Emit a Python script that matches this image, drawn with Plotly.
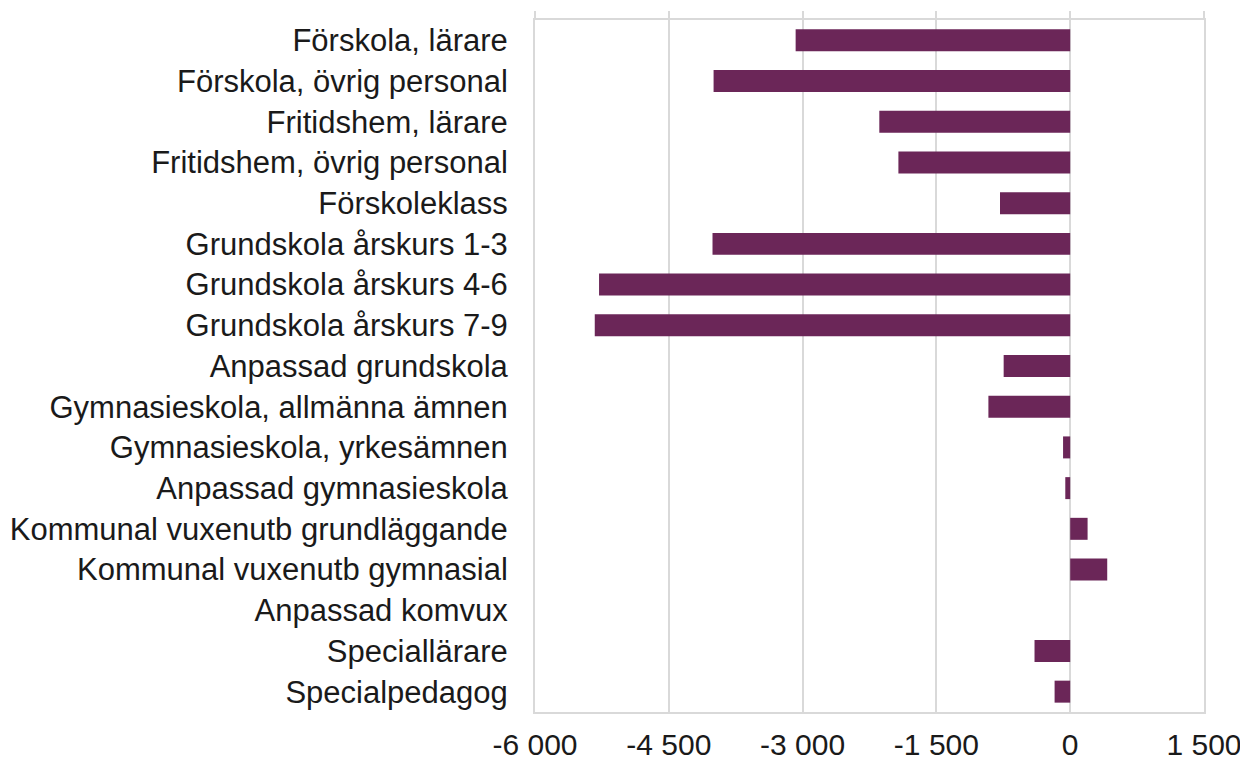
import plotly.graph_objects as go

categories = [
    "Förskola, lärare",
    "Förskola, övrig personal",
    "Fritidshem, lärare",
    "Fritidshem, övrig personal",
    "Förskoleklass",
    "Grundskola årskurs 1-3",
    "Grundskola årskurs 4-6",
    "Grundskola årskurs 7-9",
    "Anpassad grundskola",
    "Gymnasieskola, allmänna ämnen",
    "Gymnasieskola, yrkesämnen",
    "Anpassad gymnasieskola",
    "Kommunal vuxenutb grundläggande",
    "Kommunal vuxenutb gymnasial",
    "Anpassad komvux",
    "Speciallärare",
    "Specialpedagog",
]
values = [-3078, -3998, -2140, -1926, -787, -4010, -5282, -5330,
          -746, -917, -80, -55, 195, 415, 0, -400, -175]

tick_vals = [-6000, -4500, -3000, -1500, 0, 1500]
tick_text = ["-6 000", "-4 500", "-3 000", "-1 500", "0", "1 500"]

bar_color = "#6B2658"
grid_color = "#D9D9D9"
font_family = "Liberation Sans, Arial, sans-serif"

fig = go.Figure()
fig.add_trace(
    go.Bar(
        y=categories,
        x=values,
        orientation="h",
        marker=dict(color=bar_color, line=dict(width=0)),
        hoverinfo="x+y",
    )
)
# empty helper trace so the top (tick-only) axis is drawn
fig.add_trace(go.Scatter(x=[], y=[], xaxis="x2", yaxis="y", showlegend=False, hoverinfo="skip"))

fig.update_layout(
    width=1240,
    height=754,
    margin=dict(l=527, r=44, t=12, b=50),
    paper_bgcolor="white",
    plot_bgcolor="white",
    showlegend=False,
    bargap=0.46,
    font=dict(family=font_family, size=30, color="#1A1A1A"),
    xaxis=dict(
        range=[-6000, 1500],
        tickvals=tick_vals,
        ticktext=tick_text,
        showgrid=True,
        gridcolor=grid_color,
        gridwidth=2,
        zeroline=False,
        showline=True,
        linecolor=grid_color,
        linewidth=2,
        mirror=True,
        ticks="",
        ticklabelstandoff=5,
        tickfont=dict(size=30),
        automargin=False,
    ),
    xaxis2=dict(
        range=[-6000, 1500],
        overlaying="x",
        side="top",
        tickvals=tick_vals,
        showticklabels=False,
        ticks="outside",
        ticklen=8,
        tickwidth=2,
        tickcolor=grid_color,
        showgrid=False,
        zeroline=False,
        showline=False,
        automargin=False,
    ),
    yaxis=dict(
        autorange="reversed",
        showgrid=False,
        zeroline=False,
        showline=True,
        linecolor=grid_color,
        linewidth=2,
        mirror=True,
        ticks="",
        ticklabelstandoff=19,
        tickfont=dict(size=31),
        automargin=False,
    ),
)

fig.write_html("out.html")
